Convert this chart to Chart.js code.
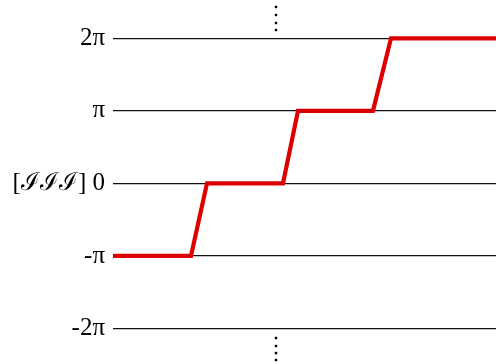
<!DOCTYPE html>
<html>
<head>
<meta charset="utf-8">
<script src="https://cdn.jsdelivr.net/npm/chart.js@4/dist/chart.umd.min.js"></script>
<style>
  body { margin: 0; background: #fff; }
  #canvas { display: block; }
</style>
</head>
<body>
<canvas id="canvas" width="496" height="364"></canvas>
<script>
// phase in units of pi, x in arbitrary units along the axis
const stepX = [0, 78, 94, 170, 185, 260, 278, 383];
const stepY = [-1, -1, 0, 0, 1, 1, 2, 2];
const tickValues = [-2, -1, 0, 1, 2];
const tickLabels = ["-2π", "-π", "[ℐℐℐ] 0", "π", "2π"];
// vertical ellipsis above 2π and below -2π
const dotsX = [163, 163, 163, 163, 163, 163, 163, 163];
const dotsY = [2.114, 2.211, 2.321, 2.432, -2.131, -2.241, -2.338, -2.434];

const ctx = document.getElementById("canvas").getContext("2d");
const chart = new Chart(ctx, {
  type: "scatter",
  data: {
    datasets: [
      {
        data: stepX.map((x, i) => ({ x: x, y: stepY[i] })),
        showLine: true,
        borderColor: "#dd0000",
        borderWidth: 4.2,
        borderCapStyle: "butt",
        borderJoinStyle: "miter",
        pointRadius: 0,
        tension: 0,
        clip: false,
      },
      {
        data: dotsX.map((x, i) => ({ x: x, y: dotsY[i] })),
        showLine: false,
        pointStyle: "rect",
        pointRadius: 1.7,
        backgroundColor: "#000",
        borderWidth: 0,
      },
    ],
  },
  options: {
    responsive: false,
    animation: false,
    layout: { padding: 0, autoPadding: false },
    plugins: { legend: { display: false }, tooltip: { enabled: false } },
    scales: {
      x: {
        type: "linear",
        display: false,
        min: 0,
        max: 383,
      },
      y: {
        min: -2.489,
        max: 2.528,
        afterBuildTicks: (scale) => {
          scale.ticks = tickValues.map((v) => ({ value: v }));
        },
        afterFit: (scale) => {
          scale.width = 113;
          scale.paddingTop = 0;
          scale.paddingBottom = 0;
        },
        border: { display: false },
        grid: {
          color: "#111",
          lineWidth: 1.3,
          drawTicks: false,
        },
        ticks: {
          padding: 8,
          color: "#000",
          font: { family: "'Liberation Serif', serif", size: 25 },
          callback: (value) => tickLabels[tickValues.indexOf(value)],
        },
      },
    },
  },
});
</script>
</body>
</html>
